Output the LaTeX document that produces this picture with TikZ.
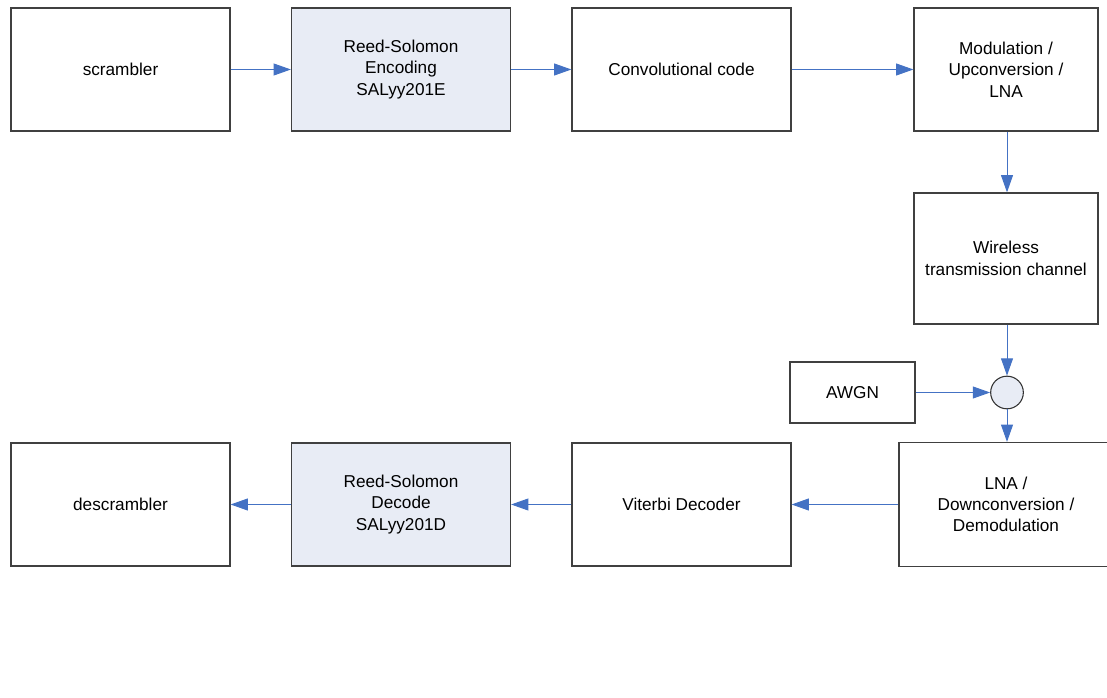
\documentclass[tikz,border=0pt]{standalone}
\usepackage{fontspec}
\setmainfont{Liberation Sans}
\usetikzlibrary{positioning,arrows.meta}
\definecolor{linkblue}{RGB}{68,114,196}
\definecolor{rsfill}{RGB}{232,236,245}
\begin{document}
\begin{tikzpicture}[
x=0.75pt,
y=-0.75pt,
block/.style={
  draw=black!75,
  line width=0.9pt,
  fill=white,
  align=center,
  font=\fontsize{12.9}{16}\selectfont,
  minimum width=164.25pt,
  minimum height=92.25pt,
  inner sep=0pt
  },
coded/.style={
  block,
  fill=rsfill
  },
narrow/.style={
  block,
  minimum width=138pt
  },
sum/.style={
  draw=black!80,
  line width=0.8pt,
  fill=rsfill,
  circle,
  minimum size=24.5pt,
  inner sep=0pt
  },
link/.style={
  draw=linkblue,
  line width=0.75pt,
  -{Triangle[length=13pt,width=9pt]}
  }
]
\useasboundingbox (0,0) rectangle (1107,698);
% transmit chain
\node[block] (scr) at (120.5,69.5) {scrambler};
\node[coded] (rse) at (401,69.5) {Reed-Solomon\\Encoding\\SALyy201E};
\node[block] (conv) at (681.5,69.5) {Convolutional code};
\node[narrow] (mod) at (1006,69.5) {Modulation /\\Upconversion /\\LNA};
\node[narrow,minimum height=98.25pt] (chan) at (1006,258.5) {Wireless\\transmission channel};
% noise
\node[sum] (add) at (1007,392.5) {};
\node[block,minimum width=93.75pt,minimum height=45.75pt] (awgn) at (852.5,392.5) {AWGN};
% receive chain
\node[block,minimum width=160.5pt,minimum height=93pt] (lna) at (1006,504.5) {LNA /\\Downconversion /\\Demodulation};
\node[block] (vit) at (681.5,504.5) {Viterbi Decoder};
\node[coded] (rsd) at (401,504.5) {Reed-Solomon\\Decode\\SALyy201D};
\node[block] (desc) at (120.5,504.5) {descrambler};
\draw[link] (scr) -- (rse);
\draw[link] (rse) -- (conv);
\draw[link] (conv) -- (mod);
\draw[link] (mod.south -| add) -- (chan.north -| add);
\draw[link] (chan.south -| add) -- (add.north);
\draw[link] (awgn) -- (add);
\draw[link] (add.south) -- (lna.north -| add);
\draw[link] (lna) -- (vit);
\draw[link] (vit) -- (rsd);
\draw[link] (rsd) -- (desc);
\end{tikzpicture}
\end{document}
